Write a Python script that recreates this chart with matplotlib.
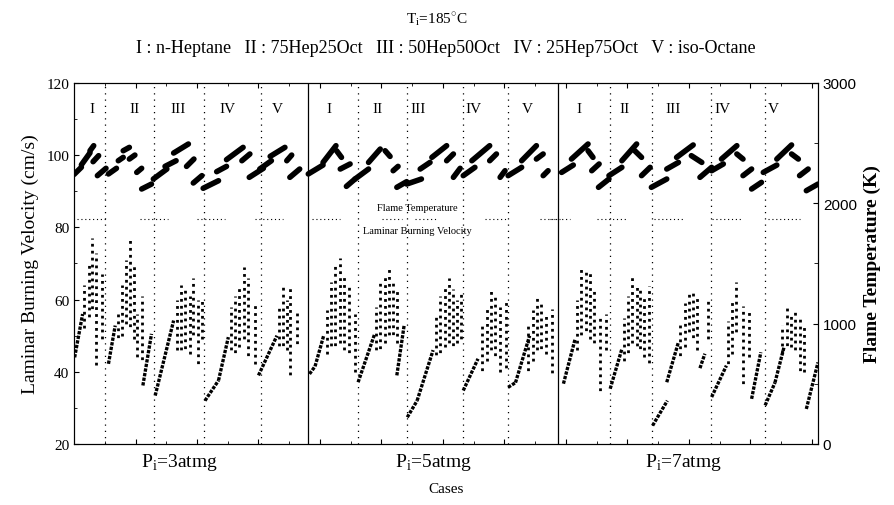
import matplotlib.pyplot as plt
from matplotlib.ticker import MultipleLocator

plt.rcParams['font.family'] = ['Liberation Serif', 'DejaVu Serif']
plt.rcParams['mathtext.fontset'] = 'custom'
plt.rcParams['mathtext.rm'] = 'Liberation Serif'

# flame temperature strokes (case0, T0, case1, T1) in K
temp_3atm = [(0, 2240, 12, 2300), (12, 2320, 26, 2420), (26, 2437, 32, 2479), (31, 2346, 40, 2396), (38, 2230, 52, 2291),
             (56, 2244, 69, 2291), (72, 2354, 80, 2382), (80, 2437, 90, 2465), (90, 2368, 99, 2401), (102, 2257, 110, 2291), (110, 2119, 126, 2160),
             (129, 2202, 151, 2285), (148, 2307, 166, 2354), (162, 2418, 186, 2493), (183, 2307, 195, 2368),
             (194, 2169, 208, 2230), (210, 2125, 235, 2188), (232, 2263, 248, 2307), (248, 2363, 275, 2465), (273, 2354, 286, 2410),
             (285, 2216, 308, 2291), (302, 2285, 321, 2354), (319, 2390, 343, 2465), (346, 2354, 354, 2401), (351, 2216, 367, 2285)]
temp_5atm = [(381, 2244, 405, 2318), (405, 2340, 426, 2479), (427, 2437, 435, 2382), (433, 2285, 449, 2327), (443, 2141, 457, 2202),
             (457, 2202, 479, 2285), (479, 2340, 498, 2451), (506, 2437, 514, 2390), (519, 2271, 527, 2307),
             (525, 2133, 541, 2180), (541, 2160, 565, 2202), (563, 2285, 579, 2340), (582, 2382, 606, 2479), (606, 2354, 617, 2410), (617, 2216, 628, 2291),
             (633, 2230, 652, 2299), (647, 2354, 676, 2479), (676, 2354, 687, 2410), (693, 2216, 701, 2271),
             (706, 2230, 728, 2299), (728, 2354, 752, 2479), (752, 2368, 763, 2410), (763, 2230, 771, 2271)]
temp_7atm = [(793, 2257, 812, 2318), (809, 2368, 836, 2493), (836, 2437, 844, 2382), (842, 2271, 854, 2327), (853, 2133, 870, 2202),
             (870, 2230, 891, 2299), (891, 2354, 915, 2493), (912, 2437, 923, 2382), (923, 2230, 937, 2299),
             (939, 2133, 964, 2202), (964, 2285, 983, 2340), (980, 2382, 1007, 2485), (1004, 2396, 1021, 2340), (1018, 2216, 1037, 2299),
             (1037, 2271, 1056, 2327), (1053, 2368, 1078, 2479), (1078, 2410, 1088, 2368), (1088, 2230, 1102, 2285), (1102, 2119, 1118, 2174),
             (1121, 2257, 1143, 2318), (1143, 2368, 1167, 2485), (1167, 2410, 1178, 2368), (1180, 2230, 1194, 2285), (1191, 2105, 1210, 2160)]

# burning velocity: steep rising runs (case0, v0, case1, v1) in cm/s
rise_3atm = [(1, 44, 14, 56), (56, 42.2, 67, 52.8), (112, 36.2, 126, 50.5), (132, 33.4, 162, 54.2),
             (213, 32, 235, 37.6), (235, 37.6, 251, 49.6), (300, 39, 330, 50)]
rise_5atm = [(383, 39.4, 392, 41.5), (392, 41.5, 406, 50), (462, 37.1, 489, 50.5), (525, 39, 537, 53),
             (542, 27.4, 558, 32), (558, 32, 584, 46), (633, 34.8, 657, 43.6), (706, 35.7, 718, 37), (718, 37, 741, 50)]
rise_7atm = [(796, 36.7, 815, 49.1), (872, 35.3, 891, 46.3), (941, 25.1, 965, 32), (964, 37.1, 983, 48.2),
             (1018, 41, 1026, 45), (1037, 33, 1061, 41.7), (1102, 32.5, 1117, 45.4),
             (1124, 30.7, 1140, 37), (1140, 37, 1155, 47), (1191, 29.7, 1210, 42.6)]

# burning velocity: dotted columns (case, v_low, v_high)
cols_3atm = [(17, 52, 64), (24, 54, 70), (30, 57, 77), (36, 42, 73), (45, 48, 67),
             (71, 49, 57), (78, 50, 64), (85, 52, 71), (91, 52, 77), (97, 49, 70), (103, 43, 56), (110, 43, 61),
             (167, 46, 60), (174, 45, 64), (181, 46, 63), (188, 45, 61), (194, 49, 66), (201, 42, 60), (208, 49, 60),
             (255, 45, 58), (262, 45, 61), (269, 47, 64), (276, 48, 69), (283, 44, 66), (294, 42.2, 58.8),
             (333, 46, 58), (340, 47, 64), (346, 46, 60), (352, 38, 63.4), (363, 47.3, 57.4)]
cols_5atm = [(411, 45, 57), (418, 46, 65), (425, 47, 70), (432, 48, 71.4), (439, 45, 67), (447, 45, 64), (457, 40, 56),
             (491, 45, 58), (498, 46, 65), (505, 48, 67), (512, 49, 68.5), (519, 50, 65), (526, 48, 63),
             (589, 43.6, 56), (596, 45, 61), (603, 47, 64), (610, 47, 66), (617, 47, 63), (623, 48, 60), (630, 48, 62),
             (664, 40, 53), (671, 43, 58), (678, 45, 63), (685, 44, 61), (692, 40, 58), (702, 39.9, 60.2),
             (739, 40, 53), (746, 43, 57), (753, 45, 60.6), (760, 46, 59), (767, 45, 56), (777, 38.5, 57.4)]
cols_7atm = [(818, 46, 60), (825, 49, 68.5), (832, 51, 68.5), (839, 49, 68), (846, 47, 63), (855, 34.3, 55.6), (866, 46, 56),
             (894, 42, 55), (901, 45, 61), (908, 48, 66.2), (915, 46, 64), (921, 46, 63), (927, 44, 61), (935, 41.3, 63.9),
             (986, 44, 53), (993, 47, 59), (1000, 50, 62), (1007, 49, 62.5), (1014, 46, 61), (1031, 48, 60),
             (1063, 42, 54), (1070, 45, 60), (1077, 50, 64.8), (1088, 36.2, 58.3), (1098, 44, 57),
             (1152, 44, 53), (1159, 47, 57.9), (1166, 47, 56), (1173, 45, 57), (1180, 40, 55), (1187, 40, 53)]

# case boundaries
panel_edges = [380, 787]
fuel_edges = [50, 130, 211, 304, 462, 541, 633, 706, 872, 940, 1036, 1124]
fuel_names = ['I', 'II', 'III', 'IV', 'V'] * 3
fuel_label_x = [29, 98, 169, 250, 330, 415, 493, 559, 649, 737, 821, 896, 974, 1055, 1137]
sep_segments = [(5, 55), (107, 153), (200, 245), (294, 340), (387, 432), (501, 533), (554, 590), (668, 706), (758, 790),
                (774, 806), (850, 901), (943, 993), (1037, 1088), (1128, 1180)]
pressure_labels = ['P$_\\mathregular{i}$=3atmg', 'P$_\\mathregular{i}$=5atmg', 'P$_\\mathregular{i}$=7atmg']
pressure_x = [0.201, 0.485, 0.764]

fig = plt.figure(figsize=(8.94, 5.06), dpi=100)
ax = fig.add_axes([0.0828, 0.1206, 0.8322, 0.7134])
ax2 = ax.twinx()

for temps, rises, cols in [(temp_3atm, rise_3atm, cols_3atm), (temp_5atm, rise_5atm, cols_5atm), (temp_7atm, rise_7atm, cols_7atm)]:
    for c0, t0, c1, t1 in temps:
        ax2.plot([c0, c1], [t0, t1], color='k', lw=4, solid_capstyle='round')
    for c0, v0, c1, v1 in rises:
        ax.plot([c0, c1], [v0, v1], color='k', lw=2.4, ls=(0, (1, 0.4)))
    for k, (c, lo, hi) in enumerate(cols):
        ax.plot([c, c], [lo, hi], color='k', lw=2.0, ls=(k % 3, (1, 1.5)))

for x in panel_edges:
    ax.axvline(x, color='k', lw=0.9)
for x in fuel_edges:
    ax.axvline(x, color='k', lw=0.9, ls=(0, (1, 4)))
for a, b in sep_segments:
    ax.plot([a, b], [82.3, 82.3], color='k', lw=0.8, ls=(0, (1, 2.5)))
for x, name in zip(fuel_label_x, fuel_names):
    ax.text(x, 112.8, name, ha='center', va='center', fontsize=11)

ax.text(559, 85.4, 'Flame Temperature', ha='center', va='center', fontsize=7.5)
ax.text(559, 79.0, 'Laminar Burning Velocity', ha='center', va='center', fontsize=7.5)

ax.set_xlim(0, 1210)
ax.set_ylim(20, 120)
ax2.set_ylim(0, 3000)
ax.set_xticks(range(100, 1201, 100))
ax.xaxis.set_minor_locator(MultipleLocator(50))
ax.set_yticks(range(20, 121, 20))
ax.yaxis.set_minor_locator(MultipleLocator(10))
ax.tick_params(which='both', direction='in', top=True, labelbottom=False, labelsize=11)
ax.tick_params(which='minor', length=2)
ax2.set_yticks([0, 1000, 2000, 3000])
ax2.yaxis.set_minor_locator(MultipleLocator(500))
ax2.tick_params(which='both', direction='in', labelsize=11)
ax2.tick_params(which='minor', length=3)
for lbl in ax2.get_yticklabels():
    lbl.set_family('Liberation Sans')

ax.set_ylabel('Laminar Burning Velocity (cm/s)', fontsize=14, labelpad=5)
ax2.set_ylabel('Flame Temperature (K)', fontsize=14, fontweight='bold', labelpad=5)

for lab, x in zip(pressure_labels, pressure_x):
    fig.text(x, 0.085, lab, ha='center', va='center', fontsize=14)
fig.text(0.499, 0.032, 'Cases', ha='center', va='center', fontsize=11)
fig.text(0.489, 0.962, 'T$_\\mathregular{i}$=185$^{\\circ}$C', ha='center', va='center', fontsize=11)
fig.text(0.499, 0.905, 'I : n-Heptane   II : 75Hep25Oct   III : 50Hep50Oct   IV : 25Hep75Oct   V : iso-Octane',
         ha='center', va='center', fontsize=13)

fig.savefig('out.png', dpi=100)
